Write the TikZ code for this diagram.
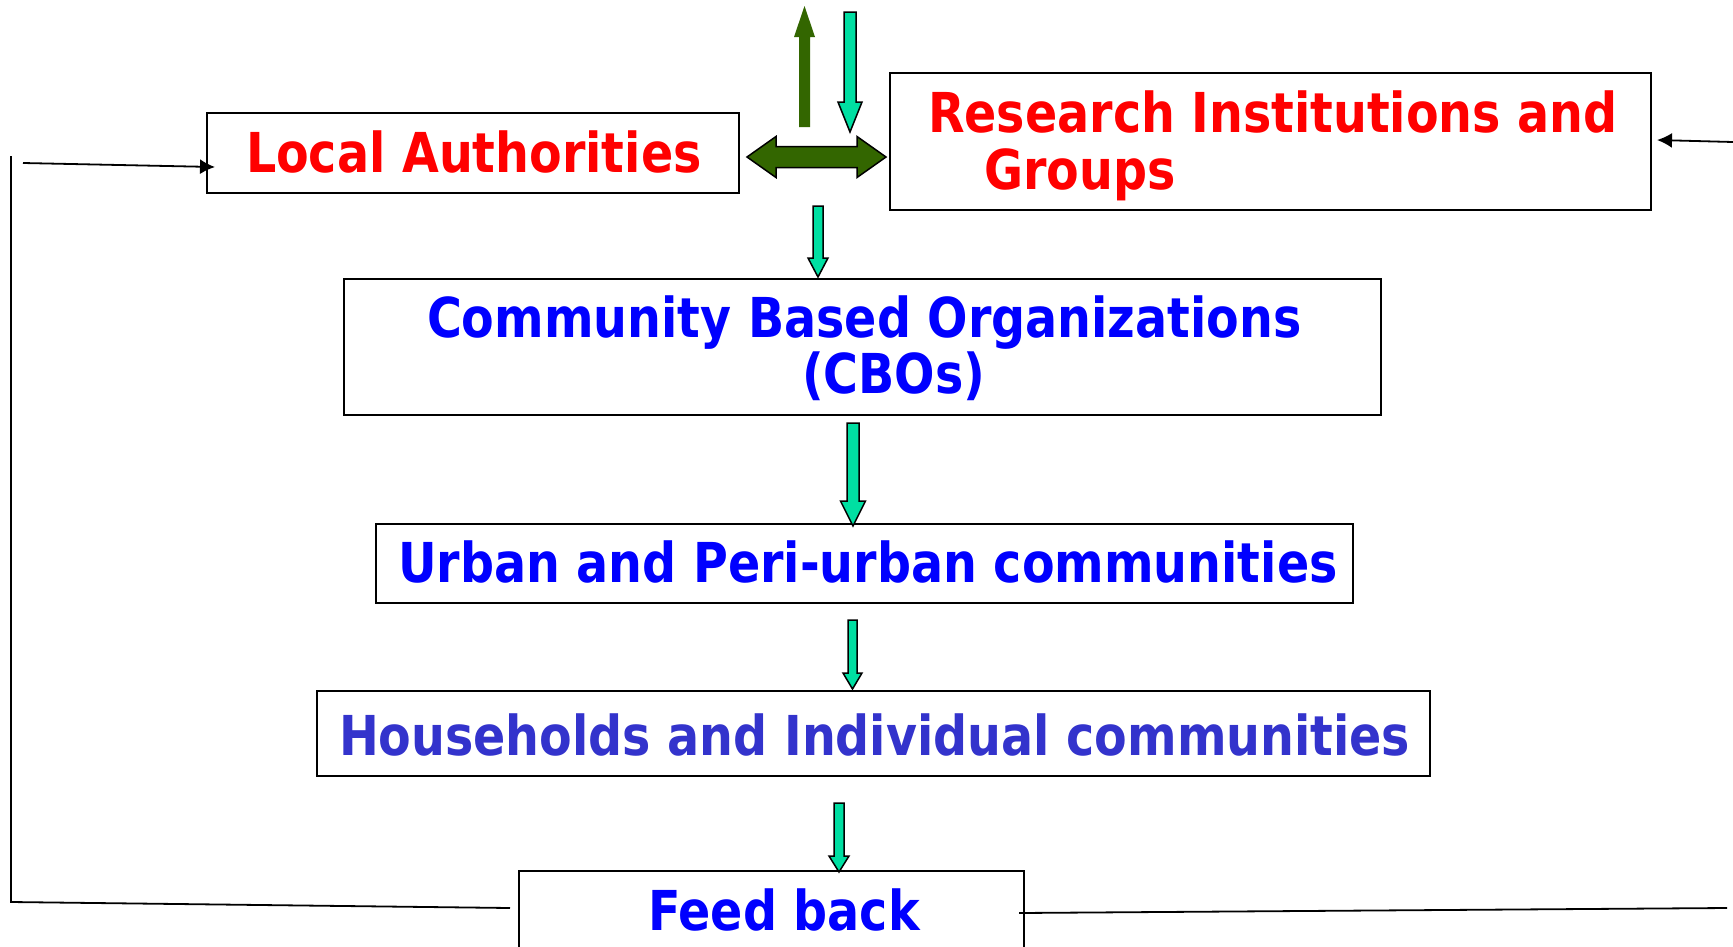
\documentclass[tikz,border=0pt]{standalone}
\usepackage{fontspec}
\setmainfont{DejaVu Sans}[FakeStretch=0.865]
\usetikzlibrary{arrows.meta}
\definecolor{tred}{HTML}{FF0000}
\definecolor{tblue}{HTML}{0000FF}
\definecolor{hblue}{HTML}{3333CC}
\definecolor{dgreen}{HTML}{336600}
\definecolor{mint}{HTML}{00DFA2}
\newcommand\mintarrow[6]{%
  \draw[blk] ({#1-#5},#2) -- ({#1+#5},#2) -- ({#1+#5},#3) -- ({#1+#6},#3) -- (#1,#4) -- ({#1-#6},#3) -- ({#1-#5},#3) -- cycle;}
\tikzset{
  box/.style={draw=black, line width=2pt, inner sep=0pt, outer sep=0pt, anchor=north west},
  lbl/.style={anchor=base west, inner sep=0pt, outer sep=0pt, font=\fontsize{55}{66}\selectfont\bfseries},
  blk/.style={draw=black, line width=1.5pt, fill=mint, line join=miter},
  conn/.style={draw=black, line width=1.8pt},
  tip/.style={-{Latex[length=15pt,width=15pt]}},
}
\begin{document}
\begin{tikzpicture}[x=1pt,y=-1pt]
\useasboundingbox[fill=white] (0,0) rectangle (1733,946);
% boxes
\node[box, minimum width=532, minimum height=80] (local) at (207,113) {};
\node[box, minimum width=761, minimum height=137] (research) at (890,73) {};
\node[box, minimum width=1037, minimum height=136] (cbo) at (344,279) {};
\node[box, minimum width=977, minimum height=79] (urban) at (376,524) {};
\node[box, minimum width=1113, minimum height=85] (house) at (317,691) {};
\node[box, minimum width=505, minimum height=119] (feed) at (519,871) {};
% texts
\node[lbl, text=tred] (tlocal) at (246,172) {Local Authorities};
\node[lbl, text=tred] (tres1) at (928,132) {Research Institutions and};
\node[lbl, text=tred] (tres2) at (984,189) {Groups};
\node[lbl, text=tblue] (tcbo1) at (427,337) {Community Based Organizations};
\node[lbl, text=tblue] (tcbo2) at (802,393) {(CBOs)};
\node[lbl, text=tblue] (turban) at (398,582) {Urban and Peri-urban communities};
\node[lbl, text=hblue] (thouse) at (339,755) {Households and Individual communities};
\node[lbl, text=tblue] (tfeed) at (648,930) {Feed back};
% block arrows
\fill[dgreen] (799,127) -- (799,37) -- (794,37) -- (804.5,6) -- (815,37) -- (810,37) -- (810,127) -- cycle;
\mintarrow{850}{12}{102}{132}{6}{12}
\draw[blk, fill=dgreen] (747,157) -- (776,136.5) -- (776,146.5) -- (857,146.5) -- (857,136.5) -- (886,157) -- (857,177.5) -- (857,167.5) -- (776,167.5) -- (776,177.5) -- cycle;
\mintarrow{818}{206}{258}{277}{5}{10}
\mintarrow{853}{423}{501}{526}{6}{12.5}
\mintarrow{852.5}{620}{673}{689}{4.5}{9.5}
\mintarrow{839}{803}{856}{872}{5}{10}
% feedback connectors
\coordinate (ltop) at (11,156);
\coordinate (lcorner) at (11,902);
\coordinate (lend) at (510,908);
\coordinate (lstart) at (23,163);
\coordinate (ltip) at (215,167);
\coordinate (rstart) at (1019,913);
\coordinate (rend) at (1727,908);
\coordinate (rastart) at (1733,142);
\coordinate (ratip) at (1657,140);
\draw[conn] (ltop) -- (lcorner) -- (lend);
\draw[conn, tip] (lstart) -- (ltip);
\draw[conn] (rstart) -- (rend);
\draw[conn, tip] (rastart) -- (ratip);
\end{tikzpicture}
\end{document}
